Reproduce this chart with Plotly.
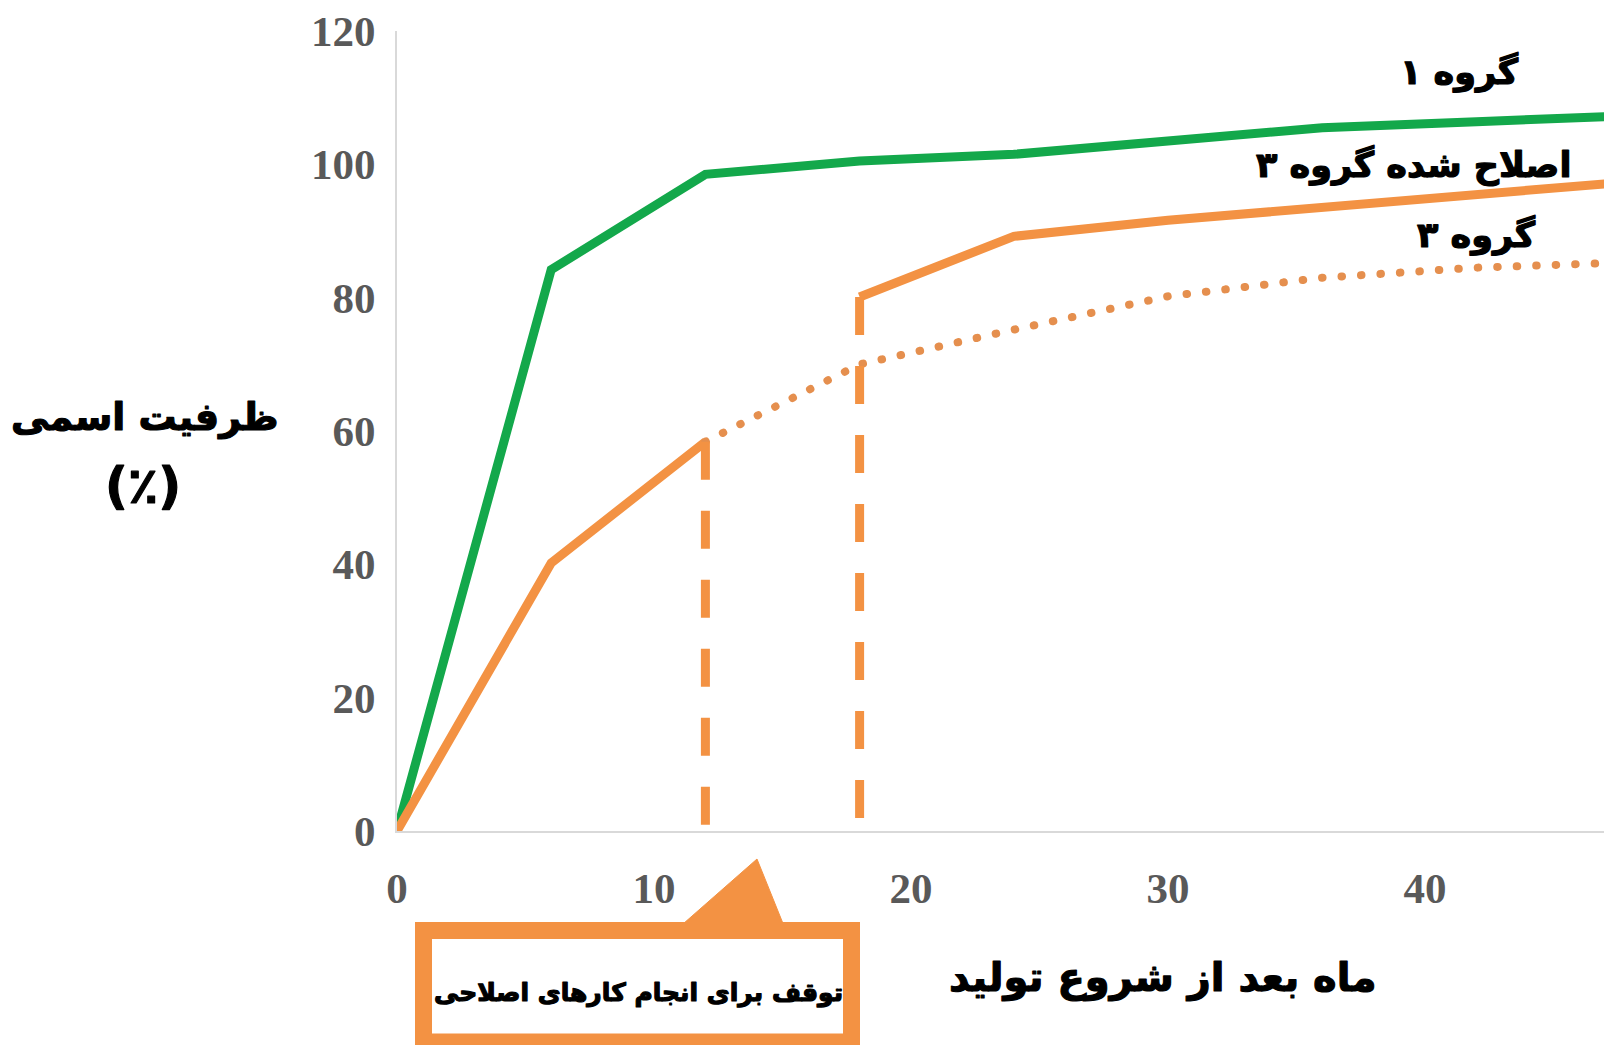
import plotly.graph_objects as go

# ---------------- data ----------------
months_g1 = [0, 6, 12, 18, 24, 30, 36, 42, 48]
group1 = [0, 84.2, 98.5, 100.5, 101.5, 103.4, 105.5, 106.4, 107.3]

months_g3_before = [0, 6, 12]
group3_before = [0, 40.2, 58.4]

months_g3_dotted = [12, 18, 24, 30, 36, 42, 48]
group3_dotted = [58.4, 70.0, 75.2, 80.2, 83.0, 84.5, 85.3]

months_mod = [18, 24, 30, 36, 42, 48]
group3_modified = [80.1, 89.2, 91.6, 93.5, 95.5, 97.4]

stop1_x = [12, 12]
stop1_y = [58.4, 0]
stop2_x = [18, 18]
stop2_y = [80.1, 0]

x_ticks = [0, 10, 20, 30, 40]
y_ticks = [0, 20, 40, 60, 80, 100, 120]

label_g1 = "گروه ۱"
label_mod = "اصلاح شده گروه ۳"
label_g3 = "گروه ۳"
y_title_1 = "ظرفیت اسمی"
y_title_2 = "(٪)"
x_title = "ماه بعد از شروع تولید"
callout_text = "توقف برای انجام کارهای اصلاحی"

# ---------------- style ----------------
W, H = 1604, 1045
ML, MR, MT, MB = 397, 0, 31, 214
PW, PH = W - ML - MR, H - MT - MB
GREEN = "#13A84B"
ORANGE = "#F39243"
DOT = "#E58F4E"
AR_FONT = "DejaVu Sans"


def px(xp):
    return (xp - ML) / PW


def py(yp):
    return (H - MB - yp) / PH


fig = go.Figure()

fig.add_trace(go.Scatter(x=months_g1, y=group1, mode="lines",
                         line=dict(color=GREEN, width=9), hoverinfo="skip"))
fig.add_trace(go.Scatter(x=months_g3_before, y=group3_before, mode="lines",
                         line=dict(color=ORANGE, width=9), hoverinfo="skip"))
fig.add_trace(go.Scatter(x=months_g3_dotted, y=group3_dotted, mode="lines",
                         line=dict(color=DOT, width=8, dash="0.5px,19px"), hoverinfo="skip"))
fig.add_trace(go.Scatter(x=months_mod, y=group3_modified, mode="lines",
                         line=dict(color=ORANGE, width=9), hoverinfo="skip"))
fig.add_trace(go.Scatter(x=stop1_x, y=stop1_y, mode="lines",
                         line=dict(color=ORANGE, width=9, dash="38px,31px"), hoverinfo="skip"))
fig.add_trace(go.Scatter(x=stop2_x, y=stop2_y, mode="lines",
                         line=dict(color=ORANGE, width=9, dash="38px,31px"), hoverinfo="skip"))

tick_font = dict(family="Liberation Serif", size=43, color="#595959", weight="bold")

fig.update_layout(
    width=W, height=H,
    margin=dict(l=ML, r=MR, t=MT, b=MB, pad=0),
    paper_bgcolor="white", plot_bgcolor="white",
    showlegend=False,
    xaxis=dict(range=[0, (W - ML) / 25.7], tickvals=x_ticks, ticktext=[str(v) for v in x_ticks],
               showgrid=False, zeroline=False, showline=True, linecolor="#D9D9D9", linewidth=2,
               ticks="", tickfont=tick_font, ticklabelstandoff=18),
    yaxis=dict(range=[0, 120], tickvals=y_ticks, ticktext=[str(v) for v in y_ticks],
               showgrid=False, zeroline=False, showline=True, linecolor="#D9D9D9", linewidth=2,
               ticks="", tickfont=tick_font, ticklabelstandoff=11),
)

texts = [
    (label_g1, 1459, 72, 35),
    (label_mod, 1413, 166, 35),
    (label_g3, 1476, 235, 35),
    (y_title_1, 145, 417, 38),
    (y_title_2, 143, 486, 50),
    (x_title, 1163, 977, 40),
    (callout_text, 638, 993, 25),
]
for t, xp, yp, sz in texts:
    fig.add_annotation(text="<b>%s</b>" % t, x=px(xp), y=py(yp), xref="paper", yref="paper",
                       xanchor="center", yanchor="middle", showarrow=False,
                       font=dict(family=AR_FONT, size=sz, color="black"))

# callout box with pointer
fig.add_shape(type="rect", xref="paper", yref="paper",
              x0=px(423.5), x1=px(851.5), y0=py(930.5), y1=py(1042),
              line=dict(color=ORANGE, width=17), fillcolor="white", layer="above")
fig.add_shape(type="path", xref="paper", yref="paper",
              path="M %f %f L %f %f L %f %f Z" % (px(757), py(859), px(675), py(931), px(786), py(931)),
              line=dict(color=ORANGE, width=1), fillcolor=ORANGE, layer="above")

post = """
document.body.style.margin = '0';
document.body.style.padding = '0';
document.body.style.overflow = 'hidden';
var gd = document.getElementById('{plot_id}');
function styleIt(){
  var tr = gd.querySelectorAll('.scatterlayer .trace');
  if (tr.length > 2) {
    tr[2].querySelectorAll('path').forEach(function(p){
      p.style.strokeLinecap = 'round';
      p.setAttribute('stroke-linecap', 'round');
    });
  }
  gd.querySelectorAll('.annotation-text').forEach(function(t){
    t.style.stroke = 'black';
    t.style.strokeWidth = '1.2px';
    t.style.strokeLinejoin = 'round';
  });
}
styleIt();
setTimeout(styleIt, 50);
setTimeout(styleIt, 300);
if (gd.on) { gd.on('plotly_afterplot', styleIt); }
"""

fig.write_html("out.html", post_script=post, config={"displayModeBar": False})
